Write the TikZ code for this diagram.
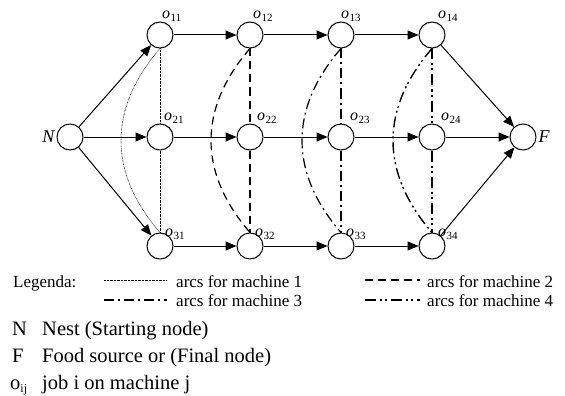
\documentclass[tikz,border=0pt]{standalone}
\usepackage{fontspec}
\setmainfont{Liberation Serif}
\usetikzlibrary{arrows.meta,calc}
\newcommand\olab[1]{\textit{o}\kern0.3pt\raisebox{-0.4ex}{\fontsize{11}{11}\selectfont #1}}
\begin{document}
\begin{tikzpicture}[x=1pt,y=-1pt,
  job/.style={circle, draw, line width=1pt, minimum size=26pt, inner sep=0pt},
  arr/.style={line width=1pt, -{Triangle[length=11pt,width=9pt]}},
  lab/.style={font=\fontsize{16}{16}\selectfont, inner sep=0pt, anchor=base west},
  side/.style={font=\itshape\fontsize{18}{18}\selectfont, inner sep=2pt},
  leg/.style={font=\fontsize{17}{17}\selectfont, inner sep=0pt, anchor=base west},
  big/.style={font=\fontsize{20.5}{20.5}\selectfont, inner sep=0pt, anchor=base west},
  mone/.style={line width=0.55pt, dash pattern=on 0.7pt off 0.7pt},
  mtwo/.style={line width=1.2pt, dash pattern=on 8pt off 5pt},
  mthree/.style={line width=1.2pt, dash pattern=on 10pt off 4pt on 2pt off 4pt},
  mfour/.style={line width=1.4pt, dash pattern=on 11pt off 4pt on 2pt off 3pt on 2pt off 4pt}]
\useasboundingbox (0,0) rectangle (565,396);
% nodes
\node[job] (N) at (70,137) {};
\node[job] (o11) at (160,35) {};
\node[job] (o12) at (250,35) {};
\node[job] (o13) at (341,35) {};
\node[job] (o14) at (432,35) {};
\node[job] (o21) at (160,137) {};
\node[job] (o22) at (250,137) {};
\node[job] (o23) at (341,137) {};
\node[job] (o24) at (432,137) {};
\node[job] (o31) at (160,246) {};
\node[job] (o32) at (250,246) {};
\node[job] (o33) at (341,246) {};
\node[job] (o34) at (432,246) {};
\node[job] (F) at (523,137) {};
% side labels
\node[side, anchor=east] (NL) at (N.west) {N};
\node[side, anchor=west] (FL) at (F.east) {F};
% job labels
\node[lab] (l11) at ($(o11.north)+(2,-3)$) {\olab{11}};
\node[lab] (l12) at ($(o12.north)+(3,-3)$) {\olab{12}};
\node[lab] (l13) at ($(o13.north)+(0,-3)$) {\olab{13}};
\node[lab] (l14) at ($(o14.north)+(6,-3)$) {\olab{14}};
\node[lab] (l21) at ($(o21.north)+(4,-3)$) {\olab{21}};
\node[lab] (l22) at ($(o22.north)+(7,-3)$) {\olab{22}};
\node[lab] (l23) at ($(o23.north)+(9,-3)$) {\olab{23}};
\node[lab] (l24) at ($(o24.north)+(9,-3)$) {\olab{24}};
\node[lab] (l31) at ($(o31.north)+(5,4)$) {\olab{31}};
\node[lab] (l32) at ($(o32.north)+(5,4)$) {\olab{32}};
\node[lab] (l33) at ($(o33.north)+(5,4)$) {\olab{33}};
\node[lab] (l34) at ($(o34.north)+(6,4)$) {\olab{34}};
% solid arrows
\draw[arr] (N) -- (o11);
\draw[arr] (N) -- (o21);
\draw[arr] (N) -- (o31);
\draw[arr] (o11) -- (o12);
\draw[arr] (o12) -- (o13);
\draw[arr] (o13) -- (o14);
\draw[arr] (o21) -- (o22);
\draw[arr] (o22) -- (o23);
\draw[arr] (o23) -- (o24);
\draw[arr] (o31) -- (o32);
\draw[arr] (o32) -- (o33);
\draw[arr] (o33) -- (o34);
\draw[arr] (o14) -- (F);
\draw[arr] (o24) -- (F);
\draw[arr] (o34) -- (F);
% machine arcs
\draw[mone] (o11) -- (o21);
\draw[mone] (o21) -- (o31);
\draw[mone] (o11.south) .. controls +(-52,60) and +(-52,-60) .. (o31.north);
\draw[mtwo] (o12) -- (o22);
\draw[mtwo] (o22) -- (o32);
\draw[mtwo] (o12.south) .. controls +(-52,60) and +(-52,-60) .. (o32.north);
\draw[mthree] (o13) -- (o23);
\draw[mthree] (o23) -- (o33);
\draw[mthree] (o13.south) .. controls +(-52,60) and +(-52,-60) .. (o33.north);
\draw[mfour] (o14) -- (o24);
\draw[mfour] (o24) -- (o34);
\draw[mfour] (o14.south) .. controls +(-52,60) and +(-52,-60) .. (o34.north);
% legend
\node[leg] (lg) at (13,287) {Legenda:};
\coordinate (a1) at (104,280); \coordinate (b1) at (167,280);
\draw[mone] (a1) -- (b1);
\node[leg] (t1) at (176,287) {arcs for machine 1};
\coordinate (a2) at (365,280); \coordinate (b2) at (420,280);
\draw[mtwo] (a2) -- (b2);
\node[leg] (t2) at (427,287) {arcs for machine 2};
\coordinate (a3) at (104,300); \coordinate (b3) at (167,300);
\draw[mthree] (a3) -- (b3);
\node[leg] (t3) at (176,306) {arcs for machine 3};
\coordinate (a4) at (365,300); \coordinate (b4) at (420,300);
\draw[mfour] (a4) -- (b4);
\node[leg] (t4) at (427,306) {arcs for machine 4};
% key
\node[big] (kN) at (12,335) {N};
\node[big] (dN) at (42,335) {Nest (Starting node)};
\node[big] (kF) at (12,362) {F};
\node[big] (dF) at (42,362) {Food source or (Final node)};
\node[big] (ko) at (10,389) {o\raisebox{-0.35ex}{\fontsize{12}{12}\selectfont ij}};
\node[big] (dO) at (42,389) {job i on machine j};
\end{tikzpicture}
\end{document}
